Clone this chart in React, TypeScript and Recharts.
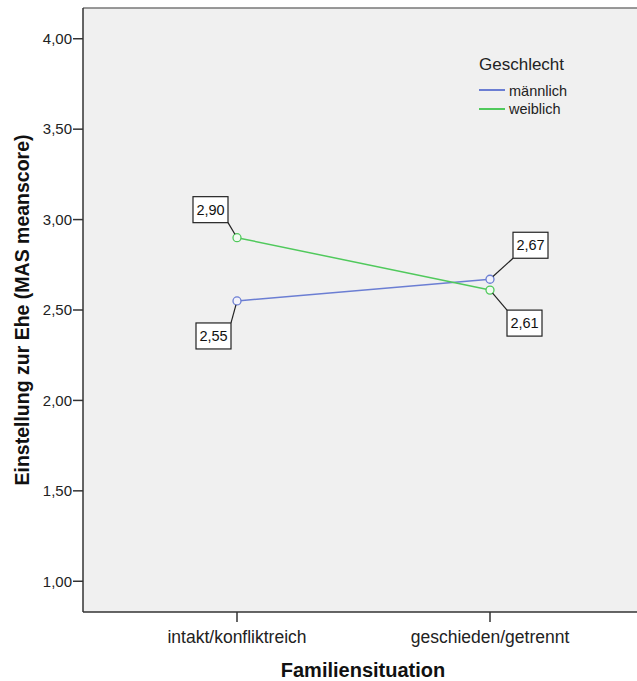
import React from 'react';
import { LineChart, Line, XAxis, YAxis, CartesianGrid, Legend, ReferenceLine, Label } from 'recharts';

const categories = ['intakt/konfliktreich', 'geschieden/getrennt'];
const maennlich = [2.55, 2.67];
const weiblich = [2.9, 2.61];
const yTicks = [1, 1.5, 2, 2.5, 3, 3.5, 4];
const yDomain = [0.83, 4.17];

const data = categories.map((name, i) => ({ name, maennlich: maennlich[i], weiblich: weiblich[i] }));

const FONT = '"Liberation Sans", Arial, sans-serif';
const BLUE = '#6b7ed3';
const GREEN = '#50c95c';

// box placement relative to each point (box left/top offset, corner the connector starts at)
const BOX_W = 35;
const BOX_H = 26;
const labelPlacement: Record<string, { dx: number; dy: number; corner: string }[]> = {
  maennlich: [
    { dx: -41, dy: 22, corner: 'tr' },
    { dx: 23, dy: -47, corner: 'bl' },
  ],
  weiblich: [
    { dx: -44, dy: -41, corner: 'br' },
    { dx: 17, dy: 20, corner: 'tl' },
  ],
};

const fmt = (v: number) => v.toFixed(2).replace('.', ',');

const makeLabel = (key: string) => (props: any) => {
  const { x, y, index, value } = props;
  const p = labelPlacement[key][index];
  if (!p || x == null) return null;
  const bx = x + p.dx;
  const by = y + p.dy;
  const cx = p.corner.includes('l') ? bx : bx + BOX_W;
  const cy = p.corner.includes('t') ? by : by + BOX_H;
  const len = Math.hypot(x - cx, y - cy);
  const ex = x - ((x - cx) / len) * 4;
  const ey = y - ((y - cy) / len) * 4;
  return (
    <g key={`lbl-${key}-${index}`}>
      <line x1={cx} y1={cy} x2={ex} y2={ey} stroke="#222" strokeWidth={1.2} />
      <rect x={bx} y={by} width={BOX_W} height={BOX_H} fill="#fff" stroke="#222" strokeWidth={1.2} />
      <text x={bx + BOX_W / 2} y={by + BOX_H / 2} textAnchor="middle" dominantBaseline="central"
        fontSize={14.5} fontFamily={FONT} fill="#111">{fmt(value)}</text>
    </g>
  );
};

const LegendBox = () => (
  <svg width={637} height={130} style={{ display: 'block' }}>
    <text x={479} y={70} fontSize={17} fontFamily={FONT} fill="#222">Geschlecht</text>
    <line x1={479} x2={505} y1={90} y2={90} stroke={BLUE} strokeWidth={2} />
    <text x={509} y={96} fontSize={14.5} fontFamily={FONT} fill="#222">männlich</text>
    <line x1={479} x2={505} y1={109} y2={109} stroke={GREEN} strokeWidth={2} />
    <text x={509} y={114} fontSize={14.5} fontFamily={FONT} fill="#222">weiblich</text>
  </svg>
);

export default function App() {
  return (
    <div style={{ position: 'absolute', left: 0, top: 0, width: 637, height: 681, overflow: 'hidden', background: '#fff' }}>
      <LineChart width={650} height={681} data={data} margin={{ top: 8, right: 7, left: 0, bottom: 0 }}>
        <CartesianGrid horizontal={false} vertical={false} fill="#f0f0f0" />
        <XAxis
          dataKey="name"
          height={69}
          padding={{ left: 154, right: 153 }}
          tickSize={10}
          tickMargin={9}
          stroke="#333"
          strokeWidth={1.5}
          tick={{ fontSize: 17.5, fill: '#222', fontFamily: FONT }}
        >
          <Label
            content={({ viewBox }: any) => (
              <text x={viewBox.x + viewBox.width / 2} y={677} textAnchor="middle"
                fontSize={20} fontWeight="bold" fontFamily={FONT} fill="#111">Familiensituation</text>
            )}
          />
        </XAxis>
        <YAxis
          width={83}
          domain={yDomain}
          ticks={yTicks}
          tickFormatter={fmt}
          tickSize={10}
          tickMargin={1}
          stroke="#333"
          strokeWidth={1.5}
          allowDataOverflow
          tick={{ fontSize: 15, fill: '#222', fontFamily: FONT }}
        >
          <Label
            content={() => (
              <text x={22} y={310} transform="rotate(-90 22 310)" textAnchor="middle" dominantBaseline="central"
                fontSize={19.5} fontWeight="bold" fontFamily={FONT} fill="#111">
                Einstellung zur Ehe (MAS meanscore)
              </text>
            )}
          />
        </YAxis>
        <ReferenceLine y={yDomain[1]} stroke="#777" strokeWidth={1.5} />
        <Legend
          verticalAlign="middle"
          align="center"
          content={() => <LegendBox />}
          wrapperStyle={{ position: 'absolute', left: 0, top: 0, width: 637, height: 130 }}
        />
        <Line
          dataKey="maennlich"
          name="männlich"
          stroke={BLUE}
          strokeWidth={1.5}
          dot={{ r: 4, fill: '#f2f2fa', stroke: BLUE, strokeWidth: 1.3 }}
          isAnimationActive={false}
          label={makeLabel('maennlich')}
        />
        <Line
          dataKey="weiblich"
          name="weiblich"
          stroke={GREEN}
          strokeWidth={1.5}
          dot={{ r: 4, fill: '#f2faf2', stroke: GREEN, strokeWidth: 1.3 }}
          isAnimationActive={false}
          label={makeLabel('weiblich')}
        />
      </LineChart>
    </div>
  );
}
